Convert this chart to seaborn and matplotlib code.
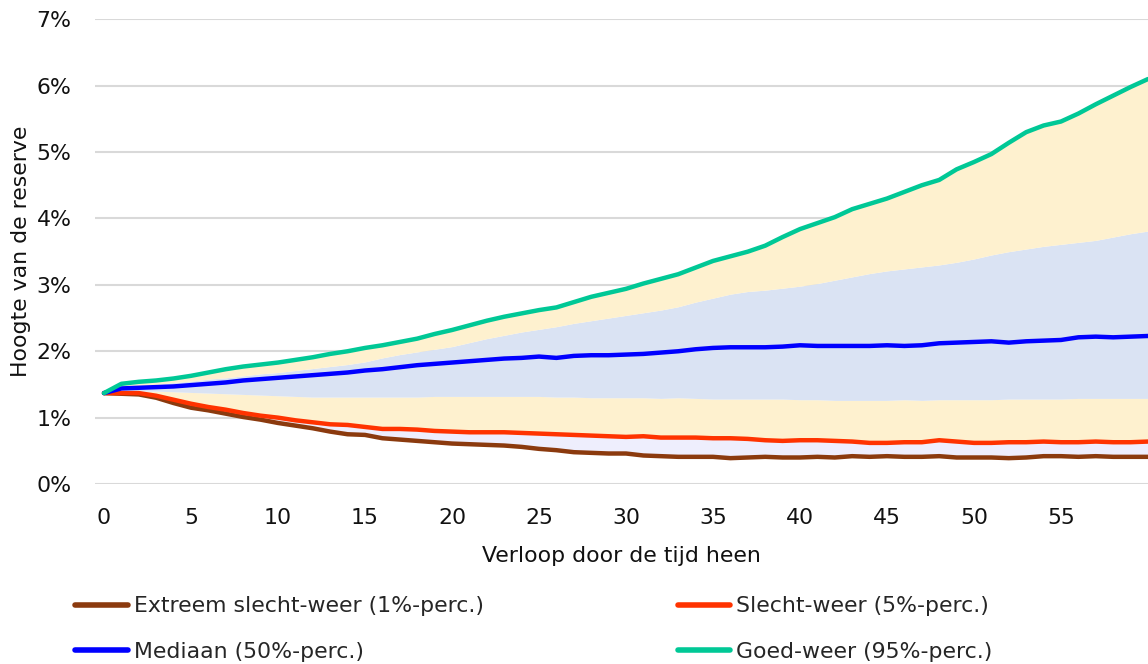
import numpy as np
import pandas as pd
import matplotlib
matplotlib.use("Agg")
import matplotlib.pyplot as plt
import seaborn as sns
from matplotlib.ticker import FuncFormatter

# --- data (percentage reserve per year) ---
years = list(range(61))

p01 = [1.37, 1.36, 1.35, 1.30, 1.22, 1.15, 1.11, 1.06, 1.01, 0.97, 0.92, 0.88, 0.84, 0.79, 0.75, 0.74,
       0.69, 0.67, 0.65, 0.63, 0.61, 0.60, 0.59, 0.58, 0.56, 0.53, 0.51, 0.48, 0.47, 0.46, 0.46, 0.43,
       0.42, 0.41, 0.41, 0.41, 0.39, 0.40, 0.41, 0.40, 0.40, 0.41, 0.40, 0.42, 0.41, 0.42, 0.41, 0.41,
       0.42, 0.40, 0.40, 0.40, 0.39, 0.40, 0.42, 0.42, 0.41, 0.42, 0.41, 0.41, 0.41]

p05 = [1.37, 1.37, 1.37, 1.33, 1.27, 1.21, 1.16, 1.12, 1.07, 1.03, 1.00, 0.96, 0.93, 0.90, 0.89, 0.86,
       0.83, 0.83, 0.82, 0.80, 0.79, 0.78, 0.78, 0.78, 0.77, 0.76, 0.75, 0.74, 0.73, 0.72, 0.71, 0.72,
       0.70, 0.70, 0.70, 0.69, 0.69, 0.68, 0.66, 0.65, 0.66, 0.66, 0.65, 0.64, 0.62, 0.62, 0.63, 0.63,
       0.66, 0.64, 0.62, 0.62, 0.63, 0.63, 0.64, 0.63, 0.63, 0.64, 0.63, 0.63, 0.64]

p25 = [1.37, 1.39, 1.40, 1.40, 1.39, 1.38, 1.37, 1.36, 1.35, 1.34, 1.33, 1.32, 1.31, 1.31, 1.31, 1.31,
       1.31, 1.31, 1.31, 1.32, 1.32, 1.32, 1.32, 1.32, 1.32, 1.32, 1.31, 1.31, 1.30, 1.30, 1.30, 1.30,
       1.29, 1.30, 1.29, 1.28, 1.28, 1.28, 1.28, 1.28, 1.27, 1.27, 1.26, 1.26, 1.26, 1.26, 1.27, 1.26,
       1.27, 1.27, 1.27, 1.27, 1.28, 1.28, 1.28, 1.28, 1.29, 1.29, 1.29, 1.29, 1.29]

p50 = [1.37, 1.44, 1.45, 1.46, 1.47, 1.49, 1.51, 1.53, 1.56, 1.58, 1.60, 1.62, 1.64, 1.66, 1.68, 1.71,
       1.73, 1.76, 1.79, 1.81, 1.83, 1.85, 1.87, 1.89, 1.90, 1.92, 1.90, 1.93, 1.94, 1.94, 1.95, 1.96,
       1.98, 2.00, 2.03, 2.05, 2.06, 2.06, 2.06, 2.07, 2.09, 2.08, 2.08, 2.08, 2.08, 2.09, 2.08, 2.09,
       2.12, 2.13, 2.14, 2.15, 2.13, 2.15, 2.16, 2.17, 2.21, 2.22, 2.21, 2.22, 2.23]

p75 = [1.37, 1.45, 1.48, 1.50, 1.53, 1.55, 1.58, 1.60, 1.63, 1.66, 1.68, 1.71, 1.74, 1.77, 1.80, 1.84,
       1.90, 1.95, 1.99, 2.03, 2.07, 2.13, 2.19, 2.24, 2.29, 2.33, 2.37, 2.42, 2.46, 2.50, 2.54, 2.58,
       2.62, 2.67, 2.74, 2.80, 2.86, 2.90, 2.92, 2.95, 2.98, 3.02, 3.07, 3.12, 3.17, 3.21, 3.24, 3.27,
       3.30, 3.34, 3.39, 3.45, 3.50, 3.54, 3.58, 3.61, 3.64, 3.67, 3.72, 3.77, 3.81]

p95 = [1.37, 1.51, 1.54, 1.56, 1.59, 1.63, 1.68, 1.73, 1.77, 1.80, 1.83, 1.87, 1.91, 1.96, 2.00, 2.05,
       2.09, 2.14, 2.19, 2.26, 2.32, 2.39, 2.46, 2.52, 2.57, 2.62, 2.66, 2.74, 2.82, 2.88, 2.94, 3.02,
       3.09, 3.16, 3.26, 3.36, 3.43, 3.50, 3.59, 3.72, 3.84, 3.93, 4.02, 4.14, 4.22, 4.30, 4.40, 4.50,
       4.58, 4.74, 4.85, 4.97, 5.14, 5.30, 5.40, 5.46, 5.58, 5.72, 5.85, 5.98, 6.10]

labels = ["Extreem slecht-weer (1%-perc.)", "Slecht-weer (5%-perc.)",
          "Mediaan (50%-perc.)", "Goed-weer (95%-perc.)"]
colors = ["#8B3A0E", "#FF3300", "#0000FF", "#00C896"]

# --- long-form table for seaborn ---
df = pd.concat([
    pd.DataFrame({"jaar": years, "reserve": vals, "scenario": lab})
    for vals, lab in zip([p01, p05, p50, p95], labels)
])

sns.set_style("white")
plt.rcParams['font.family'] = ['DejaVu Sans']
FS = 15.8

fig = plt.figure(figsize=(11.48, 6.64), dpi=100)
ax = fig.add_axes([0.083, 0.271, 0.917, 0.700])

# bands
ax.fill_between(years, p01, p05, color="#EEEEFD", lw=0)
ax.fill_between(years, p05, p25, color="#FEF1CF", lw=0)
ax.fill_between(years, p25, p75, color="#DAE3F3", lw=0)
ax.fill_between(years, p75, p95, color="#FEF1CF", lw=0)

sns.lineplot(data=df, x="jaar", y="reserve", hue="scenario", hue_order=labels,
             palette=colors, linewidth=3.2, ax=ax, legend=False)
for ln in ax.lines:
    ln.set_solid_capstyle("round")

ax.set_xlim(-0.5, 60)
ax.set_ylim(0, 7)
ax.set_xticks(range(0, 60, 5))
ax.set_yticks(range(0, 8))
ax.yaxis.set_major_formatter(FuncFormatter(lambda v, _: f"{int(v)}%"))
ax.grid(axis="y", color="#D9D9D9", linewidth=1.5)
ax.set_axisbelow(True)
for s in ax.spines.values():
    s.set_visible(False)
ax.tick_params(axis="both", length=0, labelsize=FS, colors="#111111")
ax.tick_params(axis="x", pad=17)
ax.tick_params(axis="y", pad=17)
ax.set_xlabel("Verloop door de tijd heen", fontsize=FS, color="#111111", labelpad=13)
ax.set_ylabel("Hoogte van de reserve", fontsize=FS, color="#111111", labelpad=4)

# legend: two columns, row-wise order
handles = [plt.Line2D([], [], color=c, lw=4, solid_capstyle="round") for c in colors]
order = [0, 2, 1, 3]
fig.legend([handles[i] for i in order], [labels[i] for i in order],
           loc="upper left", bbox_to_anchor=(0.058, 0.115), ncol=2, frameon=False,
           fontsize=FS, handlelength=2.4, handletextpad=0.25, columnspacing=8.85,
           labelspacing=1.15, borderaxespad=0)

fig.savefig("out.png", dpi=100)
